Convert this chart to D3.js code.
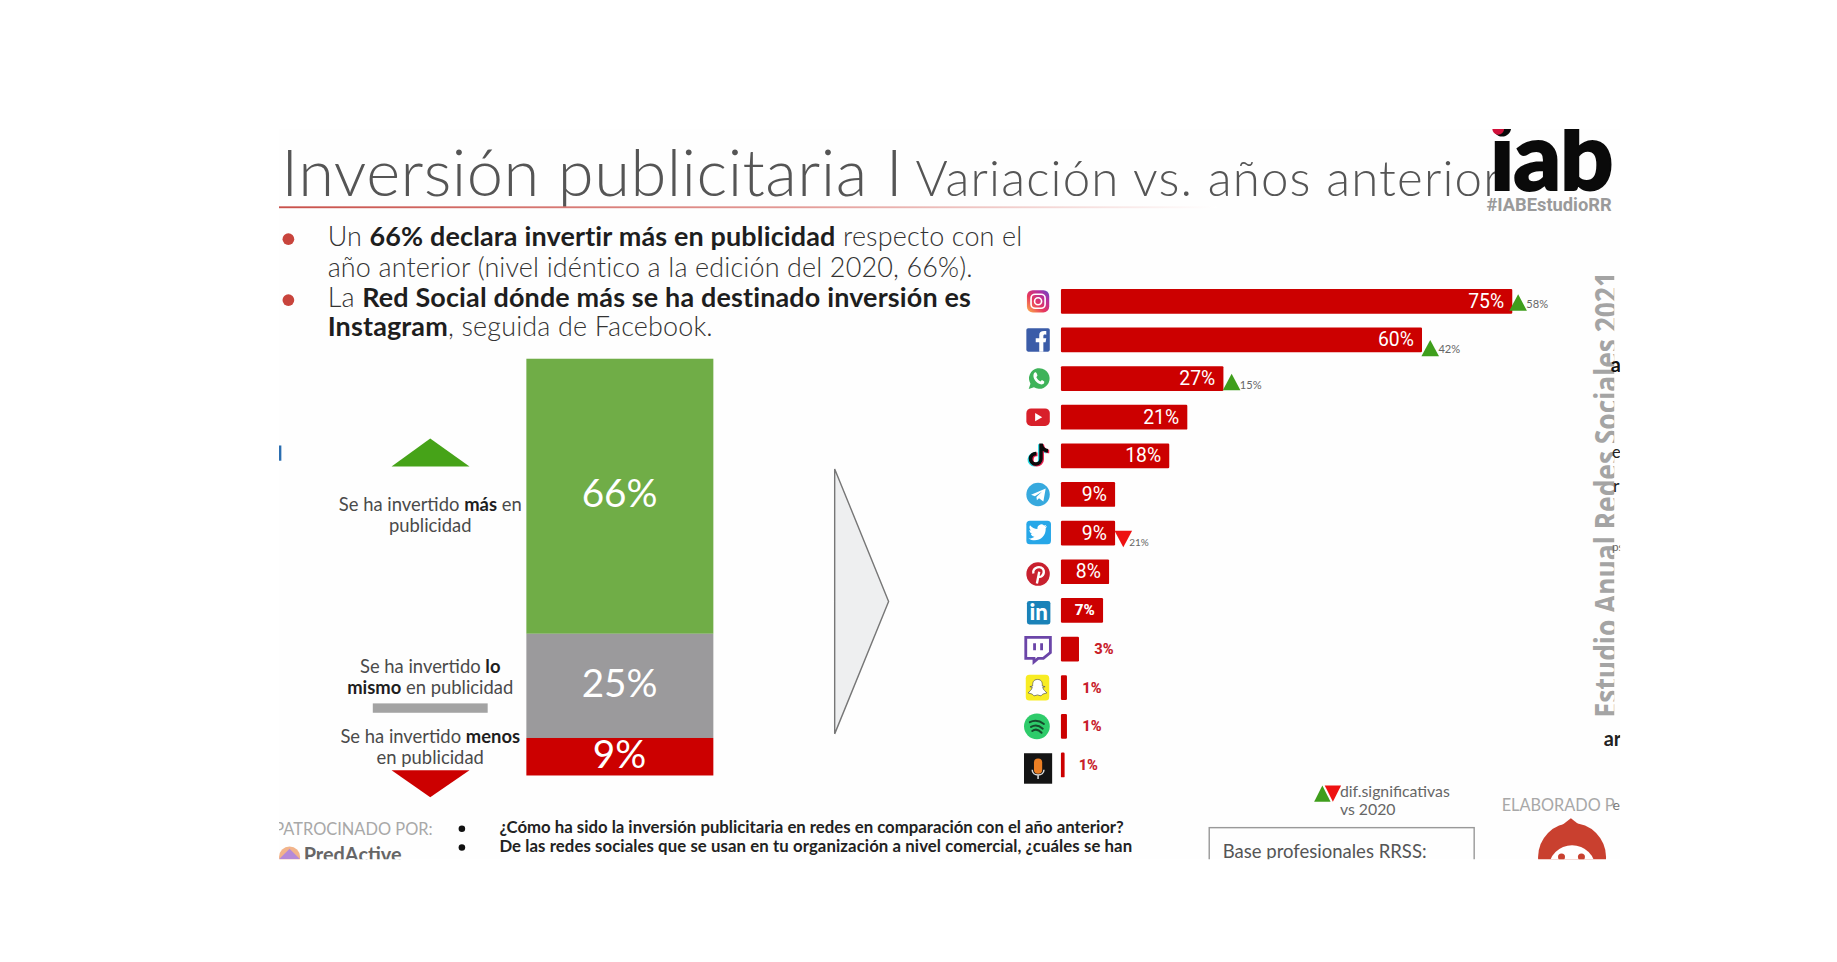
<!DOCTYPE html>
<html><head><meta charset="utf-8">
<script src="https://cdn.jsdelivr.net/npm/d3@7/dist/d3.min.js"></script>
<style>html,body{margin:0;padding:0;background:#fff;overflow:hidden}svg{display:block}</style>
</head><body><svg id="c"></svg>
<script>
// DATA
const networks = ["Instagram","Facebook","WhatsApp","YouTube","TikTok","Telegram","Twitter","Pinterest","LinkedIn","Twitch","Snapchat","Spotify","Podcast"];
const networkValues = [75,60,27,21,18,9,9,8,7,3,1,1,1];
const sigNetworks = ["Instagram","Facebook","WhatsApp","Twitter"];
const sigPrior = [58,42,15,21];
const sigDirection = ["up","up","up","down"];
const stackCategories = ["Más","Igual","Menos"];
const stackValues = [66,25,9];

const W=1567,H=820.6;
const svg=d3.select("#c").attr("width",1837).attr("height",962).attr("viewBox",`0 0 ${W} ${H}`);
const defs=svg.append("defs");
defs.append("clipPath").attr("id","slide").append("rect").attr("x",238).attr("y",110).attr("width",1144).attr("height",623);
defs.append("clipPath").attr("id","logo").append("rect").attr("x",1240).attr("y",110).attr("width",135).attr("height",80);
defs.append("clipPath").attr("id","vert").append("rect").attr("x",1340).attr("y",200).attr("width",37).attr("height",430);
const lg=defs.append("linearGradient").attr("id","rule");
lg.append("stop").attr("offset",0).attr("stop-color","#c8504a");
lg.append("stop").attr("offset",.55).attr("stop-color","#e39a96");
lg.append("stop").attr("offset",1).attr("stop-color","#fff");
const ig=defs.append("linearGradient").attr("id","ig").attr("x1",0).attr("y1",1).attr("x2",1).attr("y2",0);
[["0","#fdb44b"],[".4","#e8385c"],[".75","#b32fa0"],["1","#5a52c8"]].forEach(s=>ig.append("stop").attr("offset",s[0]).attr("stop-color",s[1]));

const root=svg.append("g").attr("clip-path","url(#slide)");
root.append("rect").attr("x",238).attr("y",110).attr("width",1144).attr("height",623).attr("fill","#fefefe");
const F="Lato, 'Open Sans', sans-serif";
function txt(x,y,parts,o={}){
  const t=(o.g||root).append("text").attr("x",x).attr("y",y).attr("font-family",o.f||F)
    .attr("font-size",o.s||15).attr("fill",o.c||"#444").attr("text-anchor",o.a||"start").attr("font-weight",o.w||400);
  if(o.ls)t.attr("letter-spacing",o.ls);
  (Array.isArray(parts)?parts:[parts]).forEach(p=>{
    if(typeof p==="string")t.append("tspan").text(p);
    else t.append("tspan").attr("font-weight",700).attr("fill",o.bc||"#1e1e1e").text(p.b);
  });
  return t;
}
// Title
txt(240,167,"Inversión publicitaria I",{s:55.5,w:300,c:"#555",ls:.4,f:"Lato"});
txt(781,167,"Variación vs. años anterior",{s:42,w:300,c:"#555",ls:1,f:"Lato"});
root.append("rect").attr("x",238).attr("y",176).attr("width",800).attr("height",1.6).attr("fill","url(#rule)");
// iab logo
const lgG=root.append("g").attr("clip-path","url(#logo)");
txt(1271,162,"iab",{g:lgG,s:80,w:900,c:"#0a0a0a",f:"Lato",ls:-1}).attr("stroke","#0a0a0a").attr("stroke-width",1.6);
lgG.append("circle").attr("cx",1278).attr("cy",110).attr("r",5).attr("fill","#d0103a");
txt(1268,180,"#IABEstudioRR",{g:lgG,s:15.6,w:700,c:"#9a9a9a",f:"Roboto"});
// Bullets
[204,256].forEach(y=>root.append("circle").attr("cx",246).attr("cy",y).attr("r",5).attr("fill","#c8443c"));
const bOpt={s:23,c:"#333",w:300,ls:.13};
txt(279.5,210,["Un ",{b:"66% declara invertir más en publicidad"}," respecto con el"],bOpt);
txt(279.5,236,"año anterior (nivel idéntico a la edición del 2020, 66%).",bOpt);
txt(279.5,262,["La ",{b:"Red Social dónde más se ha destinado inversión es"}],bOpt);
txt(279.5,287,[{b:"Instagram"},", seguida de Facebook."],bOpt);
// stacked bar
const yStack=d3.scaleLinear().domain([0,100]).range([306,661.5]);
const stackColor=d3.scaleOrdinal().domain(stackCategories).range(["#70ad47","#9b9a9c","#cc0000"]);
const stackData=d3.stack().keys(stackCategories)([Object.fromEntries(stackCategories.map((c,i)=>[c,stackValues[i]]))]);
const stackG=root.append("g");
stackG.selectAll("rect").data(stackData).join("rect").attr("x",449).attr("width",159.5)
  .attr("y",d=>yStack(d[0][0])).attr("height",d=>yStack(d[0][1])-yStack(d[0][0])).attr("fill",d=>stackColor(d.key));
const labelDy=[9.5,9.5,10];
stackG.selectAll("text").data(stackData).join("text").attr("x",528.5).attr("text-anchor","middle").attr("fill","#fff")
  .attr("font-family",F).attr("font-size",33)
  .attr("y",(d,i)=>(yStack(d[0][0])+yStack(d[0][1]))/2+labelDy[i])
  .text((d,i)=>stackValues[i]+"%");
// left labels
const lo={s:15.7,a:"middle",c:"#4a4a4a",w:400};
txt(367,436,["Se ha invertido ",{b:"más"}," en"],lo);
txt(367,454,"publicidad",lo);
txt(367,574,["Se ha invertido ",{b:"lo"}],lo);
txt(367,592,[{b:"mismo"}," en publicidad"],lo);
txt(367,634,["Se ha invertido ",{b:"menos"}],lo);
txt(367,652,"en publicidad",lo);
root.append("path").attr("d","M367 374L400.5 398H334Z").attr("fill","#46a318");
root.append("rect").attr("x",318).attr("y",600).attr("width",98).attr("height",8).attr("fill","#a3a3a3");
root.append("path").attr("d","M334 657H400.5L367 680Z").attr("fill","#cc0000");
root.append("rect").attr("x",238).attr("y",380).attr("width",2).attr("height",13).attr("fill","#2a6db0");
// arrow
root.append("path").attr("d","M712 400L758 513L712 626Z").attr("fill","#eeeff0").attr("stroke","#777").attr("stroke-width",1.2);
// horizontal bars
const x=d3.scaleLinear().domain([0,75]).range([905,1290]);
const y=d3.scaleBand().domain(networks).range([240.5,669]).paddingInner(.36).paddingOuter(.18);
const rows=networks.map((n,i)=>({n,v:networkValues[i]}));
const bars=root.append("g");
bars.selectAll("rect").data(rows).join("rect").attr("x",x(0)).attr("y",d=>y(d.n)).attr("height",y.bandwidth())
  .attr("width",d=>x(d.v)-x(0)+(d.n==="Podcast"?-2:0)).attr("rx",1).attr("fill","#cc0000");
bars.selectAll("text").data(rows).join("text").attr("font-family","Roboto").attr("dominant-baseline","central")
  .attr("y",d=>y(d.n)+y.bandwidth()/2)
  .attr("x",d=>d.v>3?x(d.v)-7:x(d.v)+(d.n==="Podcast"?10:13))
  .attr("text-anchor",d=>d.v>3?"end":"start")
  .attr("fill",d=>d.v>3?"#fff":"#c8202a")
  .attr("font-size",d=>d.v>7?16.5:d.v==7?13:12.5)
  .attr("font-weight",d=>d.v>7?400:800)
  .text(d=>d.v+"%");
// significance markers: [triangle dx, triangle dy, label dx, label dy]
const markOff={Instagram:[5,1,12,3],Facebook:[7,7,14,8],WhatsApp:[7,3,14,6],Twitter:[7,5,12,8]};
sigNetworks.forEach((n,i)=>{
  const v=networkValues[networks.indexOf(n)],o=markOff[n];
  const cx=x(v)+o[0],cy=y(n)+y.bandwidth()/2+o[1];
  root.append("path").attr("d",sigDirection[i]==="up"?`M${cx} ${cy-7}L${cx+7.5} ${cy+7}H${cx-7.5}Z`:`M${cx-7.5} ${cy-7}H${cx+7.5}L${cx} ${cy+7}Z`)
    .attr("fill",sigDirection[i]==="up"?"#3f9e1c":"#ee1111");
  txt(x(v)+o[2],y(n)+y.bandwidth()/2+o[3]+3,sigPrior[i]+"%",{s:n==="Twitter"?8.5:9.5,c:"#666"});
});
// icons
const icons={
 Instagram:g=>{g.append("rect").attr("x",-9.5).attr("y",-9.5).attr("width",19).attr("height",19).attr("rx",5).attr("fill","url(#ig)");
   g.append("rect").attr("x",-6).attr("y",-6).attr("width",12).attr("height",12).attr("rx",3.5).attr("fill","none").attr("stroke","#fff").attr("stroke-width",1.4);
   g.append("circle").attr("r",3).attr("fill","none").attr("stroke","#fff").attr("stroke-width",1.4);},
 Facebook:g=>{g.append("rect").attr("x",-10).attr("y",-10).attr("width",20).attr("height",20).attr("rx",1.5).attr("fill","#3b5ca8");
   g.append("path").attr("d","M1 10V2H-2V-1.5H1V-4C1-7 3-8 7-7.5V-4.5C5-4.8 4.5-4.5 4.5-3V-1.5H7L6.4 2H4.5V10Z").attr("fill","#fff");},
 WhatsApp:g=>{g.append("path").attr("d","M-8 9L-6.5 4.5A8.8 8.8 0 1 1 -3.5 7.5Z").attr("fill","#3fb35a");
   g.append("path").attr("d","M-3.5-4.5C-2.5-6-1.5-5.5-1-4L-.5-2.5L-1.5-1C-.5 1 .8 2 2 2.5L3.3 1.3L5 2.3C5.8 3 5 5 3 5C-1 5-5.5-.5-3.5-4.5Z").attr("fill","#fff");},
 YouTube:g=>{g.append("rect").attr("x",-10).attr("y",-7.5).attr("width",20).attr("height",15).attr("rx",4).attr("fill","#d8202a");
   g.append("path").attr("d","M-2.5-3.5L3.5 0L-2.5 3.5Z").attr("fill","#fff");},
 TikTok:g=>{const p="M1-9.5H4C4.3-6.5 6-5 8.5-4.8V-1.8C6.8-1.8 5.2-2.4 4-3.3V3.5A6 6 0 1 1 -1.5-2.5V.7A2.9 2.9 0 1 0 1 3.5Z";
   g.append("path").attr("d",p).attr("transform","translate(-1,.7)").attr("fill","#25d8e0");
   g.append("path").attr("d",p).attr("transform","translate(1,.7)").attr("fill","#e8204f");
   g.append("path").attr("d",p).attr("fill","#0b0b0b");},
 Telegram:g=>{g.append("circle").attr("r",10).attr("fill","#37a9de");
   g.append("path").attr("d","M-6 .2L6.5-5L4.5 6L.8 3.3L-1 5L-1.4 2.2L3.5-2.6L-2.7 1.5Z").attr("fill","#fff");},
 Twitter:g=>{g.append("rect").attr("x",-10).attr("y",-10).attr("width",21).attr("height",20).attr("rx",3).attr("fill","#27a7e8");
   g.append("path").attr("d","M7.5-5.5C7-5.2 6.4-5 5.8-5C6.4-5.4 6.8-6 7-6.6C6.4-6.3 5.8-6 5.1-5.9A3.3 3.3 0 0 0 -.5-2.9C-3-3-5.3-4.2-6.9-6.2C-7.8-4.7-7.3-2.7-5.9-1.8C-6.4-1.8-6.9-2-7.4-2.2C-7.4-.6-6.3.8-4.7 1.1C-5.2 1.2-5.7 1.3-6.2 1.2C-5.8 2.5-4.5 3.4-3.1 3.5C-4.6 4.7-6.4 5.2-8.2 5C-1.6 9.2 7 4.6 6.5-3.7C7-4.2 7.4-4.8 7.5-5.5Z").attr("fill","#fff");},
 Pinterest:g=>{g.append("circle").attr("r",10).attr("cy",1).attr("fill","#c8202e");
   g.append("path").attr("d","M-1 9L1-1M-4 .5C-5.5-5 3.5-7 4.8-2C5.5 2 1.5 5 -.3 2.5").attr("fill","none").attr("stroke","#fff").attr("stroke-width",2);},
 LinkedIn:g=>{g.append("rect").attr("x",-9.5).attr("y",-9).attr("width",20).attr("height",20).attr("rx",2).attr("fill","#1a82b8");
   g.append("text").attr("y",7).attr("x",.5).attr("text-anchor","middle").attr("font-family","Lato").attr("font-weight",900).attr("font-size",19).attr("fill","#fff").text("in");},
 Twitch:g=>{g.append("path").attr("d","M-10-9H11V4L5 9H.5L-3 12V9H-10Z").attr("fill","#fff").attr("stroke","#6b45a8").attr("stroke-width",2.4).attr("transform","translate(-.5,-1)");
   g.append("path").attr("d","M-3-5V1M3-5V1").attr("stroke","#6b45a8").attr("stroke-width",2.4);},
 Snapchat:g=>{g.append("rect").attr("x",-10.5).attr("y",-11).attr("width",20).attr("height",22).attr("rx",3).attr("fill","#f8ec23");
   g.append("path").attr("d","M-.5-7C3-7 3.8-4.5 3.6-1.5L6-.8L4-.5C4 2 7 3.5 7.5 4.5L4 5.5L2.5 7L-.5 6.2L-3.5 7L-5 5.5L-8.5 4.5C-8 3.5-5 2-5-.5L-7-.8L-4.6-1.5C-4.8-4.5-4-7-.5-7Z").attr("fill","#fff").attr("stroke","#555").attr("stroke-width",.6);},
 Spotify:g=>{g.append("circle").attr("r",11).attr("cx",-1).attr("fill","#2ecb6a");
   [-3.5,.5,4].forEach((dy,i)=>g.append("path").attr("d",`M${-7+i} ${dy}Q-1 ${dy-3} ${5-i} ${dy+1.5}`).attr("fill","none").attr("stroke","#164a2c").attr("stroke-width",1.7).attr("stroke-linecap","round"));},
 Podcast:g=>{g.append("rect").attr("x",-12).attr("y",-12).attr("width",24).attr("height",26).attr("fill","#141414");
   g.append("rect").attr("x",-3.5).attr("y",-7.5).attr("width",7).attr("height",13).attr("rx",3.5).attr("fill","#ec7f24");
   g.append("path").attr("d","M-5 2C-5 8 5 8 5 2M0 6V10").attr("fill","none").attr("stroke","#ddd").attr("stroke-width",1.3);}
};
const iconDy={Pinterest:1,LinkedIn:1,Twitter:-.5,Snapchat:0,Podcast:2,Twitch:0,TikTok:-1};
networks.forEach(n=>{const g=root.append("g").attr("transform",`translate(885.5,${y(n)+y.bandwidth()/2+(iconDy[n]||0)})`);icons[n](g);});
// vertical watermark
const vg=root.append("g").attr("clip-path","url(#vert)");
txt(0,0,"Estudio Anual Redes Sociales 2021",{g:vg,s:27,w:700,c:"#a4a4a4",f:"'Open Sans'"})
  .attr("transform","translate(1380,612) rotate(-90)").attr("textLength",380).attr("lengthAdjust","spacingAndGlyphs");
// stray fragments
txt(1374,317,"a",{s:17,w:700,c:"#111"});
txt(1375,391,"e",{s:14,c:"#222"});
txt(1376,420,"r",{s:15,c:"#222"});
txt(1375,470,"ps",{s:10,c:"#666"});
txt(1368,636,"ar",{s:17,w:700,c:"#222"});
// bottom
txt(234,712,"PATROCINADO POR:",{s:14,c:"#a8a8a8"});
root.append("circle").attr("cx",247).attr("cy",731).attr("r",9).attr("fill","#f2b48a");
root.append("path").attr("d","M238 733L247 724L256 733Z").attr("fill","#b58ad8");
txt(259,735,"PredActive",{s:17,w:700,c:"#666",f:"Lato"});
[707,723].forEach(v=>root.append("circle").attr("cx",394).attr("cy",v).attr("r",2.8).attr("fill","#111"));
txt(426,710.5,"¿Cómo ha sido la inversión publicitaria en redes en comparación con el año anterior?",{s:14.3,w:700,c:"#222"});
txt(426,727,"De las redes sociales que se usan en tu organización a nivel comercial, ¿cuáles se han",{s:14.3,w:700,c:"#222",ls:.07});
root.append("path").attr("d","M1121 684L1128 670L1135 684Z").attr("fill","#3f9e1c");
root.append("path").attr("d","M1130 670H1144L1137 684Z").attr("fill","#ee1111");
txt(1143,680,"dif.significativas",{s:13.5,c:"#666"});
txt(1143,695,"vs 2020",{s:13.5,c:"#666"});
txt(1281,692,"ELABORADO P",{s:13.9,c:"#a8a8a8"});
txt(1375.5,691,"e",{s:12,c:"#777"});
root.append("rect").attr("x",1031.5).attr("y",706).attr("width",226).attr("height",60).attr("fill","none").attr("stroke","#999").attr("stroke-width",1.2);
txt(1043,732,"Base profesionales RRSS:",{s:15.8,c:"#555"});
root.append("circle").attr("cx",1341).attr("cy",731).attr("r",29).attr("fill","#c9402f");
root.append("path").attr("d","M1331 705L1340 698L1349 705Z").attr("fill","#c9402f");
root.append("circle").attr("cx",1341).attr("cy",741).attr("r",20).attr("fill","#fff");
[1332,1349].forEach(v=>root.append("circle").attr("cx",v).attr("cy",731).attr("r",3).attr("fill","#c9402f"));
</script></body></html>
